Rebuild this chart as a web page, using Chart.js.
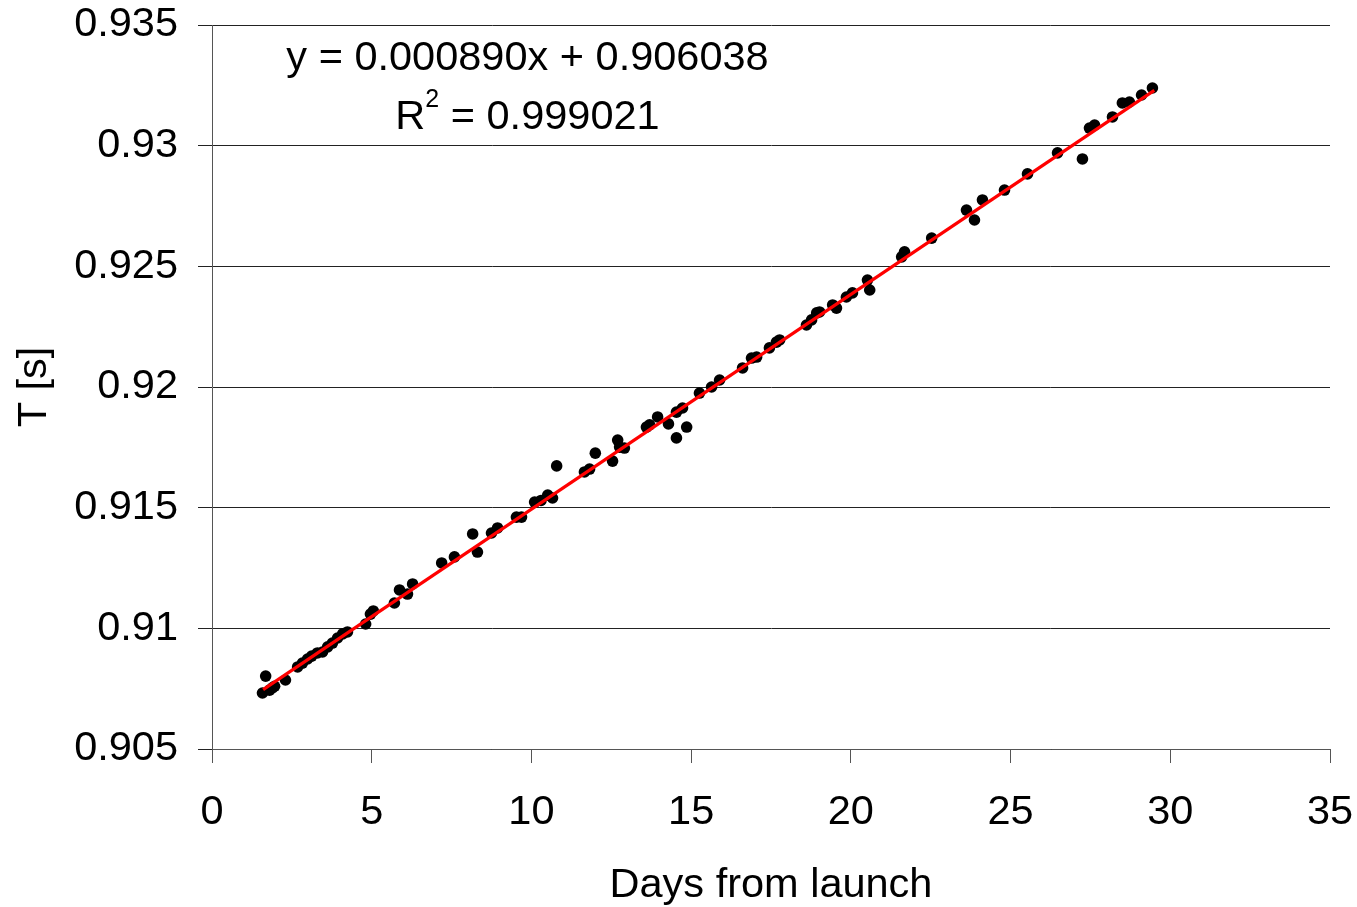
<!DOCTYPE html>
<html>
<head>
<meta charset="utf-8">
<title>Pendulum period vs days from launch</title>
<script src="https://cdn.jsdelivr.net/npm/chart.js@4/dist/chart.umd.min.js"></script>
<style>
  html, body { margin: 0; padding: 0; background: #fff; }
  canvas { display: block; }
</style>
</head>
<body>
<canvas id="chart" width="1357" height="907"></canvas>
<script>
// Measured period T (seconds) against days elapsed since launch
const days = [
  1.58, 1.68, 1.80, 1.89, 1.96, 2.30, 2.68, 2.83, 2.99, 3.12,
  3.30, 3.46, 3.62, 3.77, 3.93, 4.09, 4.24, 4.81, 4.96, 5.05,
  5.71, 5.87, 6.12, 6.28, 7.19, 7.59, 8.16, 8.31, 8.75, 8.94,
  9.53, 9.69, 10.10, 10.30, 10.51, 10.66, 10.79, 11.66, 11.82, 12.00,
  12.54, 12.70, 12.76, 12.91, 13.60, 13.70, 13.95, 14.29, 14.54, 14.54,
  14.73, 14.86, 15.26, 15.64, 15.89, 16.61, 16.89, 17.05, 17.45, 17.67,
  17.77, 18.61, 18.77, 18.93, 19.02, 19.43, 19.55, 19.86, 20.05, 20.52,
  20.59, 21.59, 21.68, 22.53, 23.62, 23.87, 24.12, 24.81, 25.53, 26.47,
  27.25, 27.47, 27.63, 28.19, 28.50, 28.72, 29.10, 29.44
];
const periods = [
  0.90732, 0.90802, 0.90744, 0.90753, 0.90760, 0.90786, 0.90840, 0.90856, 0.90873, 0.90885,
  0.90898, 0.90902, 0.90923, 0.90939, 0.90960, 0.90977, 0.90985, 0.91018, 0.91059, 0.91072,
  0.91105, 0.91159, 0.91142, 0.91184, 0.91271, 0.91296, 0.91391, 0.91316, 0.91395, 0.91416,
  0.91461, 0.91461, 0.91523, 0.91530, 0.91552, 0.91540, 0.91673, 0.91648, 0.91660, 0.91726,
  0.91693, 0.91780, 0.91751, 0.91747, 0.91834, 0.91843, 0.91876, 0.91847, 0.91896, 0.91789,
  0.91913, 0.91834, 0.91975, 0.92000, 0.92029, 0.92079, 0.92120, 0.92124, 0.92162, 0.92186,
  0.92195, 0.92257, 0.92278, 0.92307, 0.92311, 0.92340, 0.92327, 0.92373, 0.92390, 0.92443,
  0.92402, 0.92539, 0.92560, 0.92617, 0.92733, 0.92692, 0.92775, 0.92816, 0.92883, 0.92970,
  0.92945, 0.93073, 0.93085, 0.93119, 0.93177, 0.93181, 0.93210, 0.93239
];

// Linear least-squares fit, as printed on the chart
const fitSlope = 0.000890;
const fitIntercept = 0.906038;
const fitR2 = '0.999021';
const fitRange = [1.6, 29.5];

const xTickLabels = ['0', '5', '10', '15', '20', '25', '30', '35'];
const yTickLabels = ['0.905', '0.91', '0.915', '0.92', '0.925', '0.93', '0.935'];

const FONT = '"Liberation Sans", Arial, sans-serif';
const FONT_SIZE = 41.5;

const points = days.map((d, i) => ({ x: d, y: periods[i] }));
const fitLine = fitRange.map(d => ({ x: d, y: fitSlope * d + fitIntercept }));

// Equation and R² text, centred above the upper-left of the plot
const fitLabel = {
  id: 'fitLabel',
  afterDraw(chart) {
    const ctx = chart.ctx;
    const cx = 527.5;
    ctx.save();
    ctx.fillStyle = '#000';
    ctx.textBaseline = 'alphabetic';
    const big = FONT_SIZE + 'px ' + FONT, small = '25px ' + FONT;
    ctx.font = big;
    const eq = 'y = ' + fitSlope.toFixed(6) + 'x + ' + fitIntercept.toFixed(6);
    ctx.textAlign = 'center';
    ctx.fillText(eq, cx, 70);

    // second line: R, superscript 2, "= value"
    ctx.textAlign = 'left';
    const wR = ctx.measureText('R').width;
    const rest = ' = ' + fitR2;
    const wRest = ctx.measureText(rest).width;
    ctx.font = small;
    const w2 = ctx.measureText('2').width;
    const total = wR + w2 + wRest;
    let x = cx - total / 2;
    ctx.font = big;
    ctx.fillText('R', x, 129);
    x += wR;
    ctx.font = small;
    ctx.fillText('2', x, 107);
    x += w2;
    ctx.font = big;
    ctx.fillText(rest, x, 129);
    ctx.restore();
  }
};

new Chart(document.getElementById('chart'), {
  type: 'scatter',
  data: {
    datasets: [
      {
        type: 'line',
        data: fitLine,
        borderColor: '#ff0000',
        borderWidth: 3.2,
        pointRadius: 0,
        fill: false,
        order: 0
      },
      {
        data: points,
        backgroundColor: '#000',
        borderColor: '#000',
        borderWidth: 0,
        pointRadius: 5.8,
        order: 1
      }
    ]
  },
  options: {
    responsive: false,
    animation: false,
    devicePixelRatio: 1,
    layout: { padding: { left: 0, top: 25, right: 27, bottom: 0 } },
    plugins: {
      legend: { display: false },
      tooltip: { enabled: false }
    },
    scales: {
      x: {
        type: 'linear',
        min: 0,
        max: 35,
        afterFit(scale) {
          scale.height = 158;
          scale.paddingLeft = 0;
          scale.paddingRight = 0;
        },
        ticks: {
          stepSize: 5,
          color: '#000',
          padding: 25,
          maxRotation: 0,
          font: { family: FONT, size: FONT_SIZE },
          callback: (v, i) => xTickLabels[i]
        },
        grid: {
          drawOnChartArea: false,
          drawTicks: true,
          tickLength: 14,
          color: '#555',
          lineWidth: 1
        },
        border: { display: true, color: '#555', width: 1 },
        title: {
          display: true,
          text: 'Days from launch',
          color: '#000',
          font: { family: FONT, size: FONT_SIZE, lineHeight: 1 },
          padding: { top: 0, bottom: 1 }
        }
      },
      y: {
        type: 'linear',
        min: 0.905,
        max: 0.935,
        afterFit(scale) {
          scale.width = 212;
          scale.paddingTop = 0;
          scale.paddingBottom = 0;
        },
        ticks: {
          stepSize: 0.005,
          color: '#000',
          padding: 20,
          font: { family: FONT, size: FONT_SIZE },
          callback: (v, i) => yTickLabels[i]
        },
        grid: {
          drawOnChartArea: true,
          drawTicks: true,
          tickLength: 14,
          color: '#222',
          lineWidth: 1
        },
        border: { display: true, color: '#555', width: 1 },
        title: {
          display: true,
          text: 'T [s]',
          color: '#000',
          font: { family: FONT, size: FONT_SIZE, lineHeight: 1 },
          padding: { top: 14, bottom: 0 }
        }
      }
    }
  },
  plugins: [fitLabel]
});
</script>
</body>
</html>
